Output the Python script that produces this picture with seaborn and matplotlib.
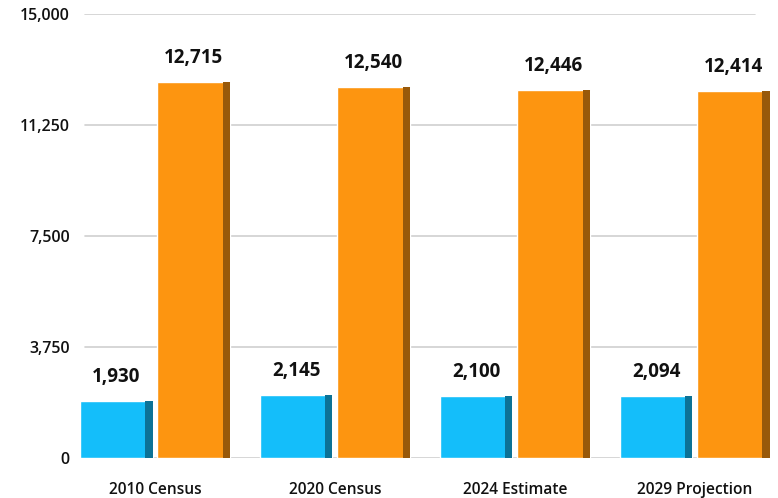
import matplotlib
matplotlib.use("Agg")
import matplotlib.pyplot as plt
import seaborn as sns
import pandas as pd

# values
categories = ["2010 Census", "2020 Census", "2024 Estimate", "2029 Projection"]
series_a = [1930, 2145, 2100, 2094]
series_b = [12715, 12540, 12446, 12414]
yticks = [0, 3750, 7500, 11250, 15000]

BLUE = "#14BEFA"
ORANGE = "#FD9510"

df = pd.DataFrame({
    "category": categories * 2,
    "series": ["a"] * len(categories) + ["b"] * len(categories),
    "value": series_a + series_b,
})

sns.set_theme(style="white")
plt.rcParams["font.family"] = ["Open Sans", "DejaVu Sans"]

fig = plt.figure(figsize=(7.78, 4.98), dpi=100)
ax = fig.add_axes([0.095, 0.08, 0.902, 0.892])

sns.barplot(data=df, x="category", y="value", hue="series",
            palette=[BLUE, ORANGE], saturation=1, width=0.86, gap=0.06,
            legend=False, ax=ax, zorder=3)

# darker right edge to hint at the 3D look of the original
for patch in list(ax.patches):
    fc = patch.get_facecolor()
    x0, w, h = patch.get_x(), patch.get_width(), patch.get_height()
    shade = tuple(c * 0.6 for c in fc[:3])
    ax.bar(x0 + w * 0.9, h, width=w * 0.1, align="edge",
           color=shade, zorder=3.5, linewidth=0)

for cont in ax.containers[:2]:
    ax.bar_label(cont, labels=[f"{v:,.0f}" for v in cont.datavalues],
                 padding=10, fontsize=13.5, fontweight="bold", color="#111111")

ax.set_ylim(0, 15000)
ax.set_xlim(-0.45, 3.45)
ax.set_yticks(yticks)
ax.set_yticklabels([f"{t:,}" for t in yticks])
for t in yticks:
    ax.axhline(t, xmin=0.016, xmax=0.97, color="#cfcfcf", lw=1.2, zorder=1)

ax.set_xlabel("")
ax.set_ylabel("")
ax.tick_params(axis="y", labelsize=11.5, pad=3, length=0)
ax.tick_params(axis="x", labelsize=11.2, pad=17, length=0)
for lab in ax.get_xticklabels() + ax.get_yticklabels():
    lab.set_fontweight("semibold")
    lab.set_color("#111111")
sns.despine(ax=ax, left=True, bottom=True)

fig.savefig("out.png", dpi=100)
